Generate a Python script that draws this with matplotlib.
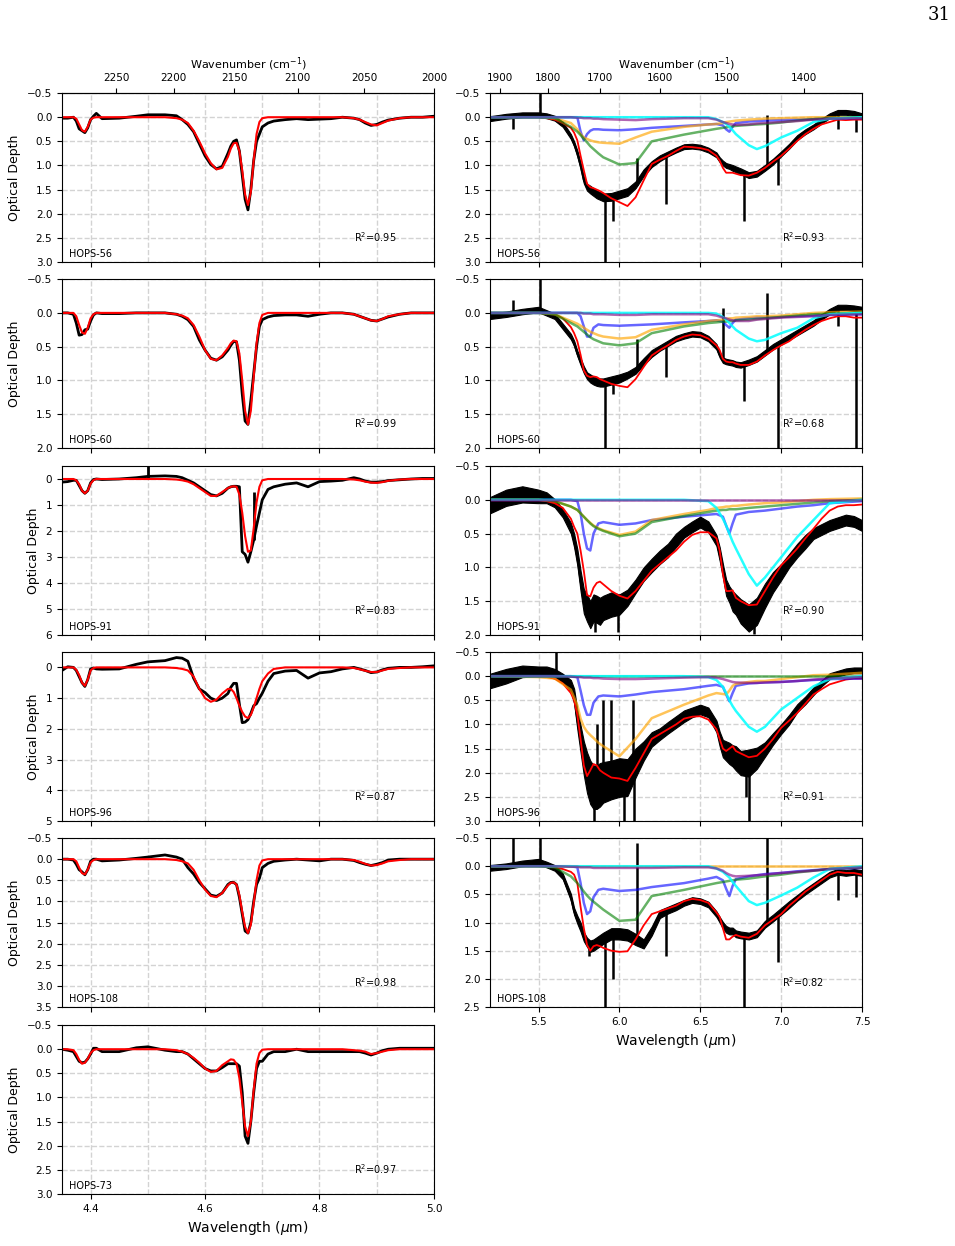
import numpy as np
import matplotlib
matplotlib.use('Agg')
import matplotlib.pyplot as plt
from matplotlib.ticker import MultipleLocator

# ---------------- data ----------------
# 4.35-5.0 micron window (CO / OCN- region)
wl_co = [4.35, 4.36, 4.37, 4.375, 4.38, 4.385, 4.39, 4.395, 4.40, 4.405,
         4.41, 4.42, 4.45, 4.48, 4.50, 4.53, 4.55, 4.56, 4.57, 4.58,
         4.59, 4.60, 4.61, 4.62, 4.63, 4.64, 4.645, 4.65, 4.655, 4.66,
         4.665, 4.67, 4.675, 4.68, 4.685, 4.69, 4.695, 4.70, 4.71, 4.72,
         4.74, 4.76, 4.78, 4.80, 4.82, 4.84, 4.86, 4.87, 4.88, 4.89,
         4.90, 4.91, 4.92, 4.94, 4.96, 4.98, 5.00]

obs56_co = [0.02, 0.02, 0.00, 0.08, 0.24, 0.28, 0.32, 0.22, 0.05, -0.02,
            -0.08, 0.03, 0.02, -0.02, -0.05, -0.05, -0.03, 0.05, 0.15, 0.30,
            0.55, 0.80, 0.98, 1.07, 1.02, 0.75, 0.60, 0.50, 0.47, 0.70,
            1.20, 1.70, 1.92, 1.50, 0.90, 0.50, 0.35, 0.20, 0.12, 0.08,
            0.05, 0.03, 0.05, 0.04, 0.03, 0.00, 0.02, 0.05, 0.12, 0.17,
            0.15, 0.10, 0.06, 0.02, 0.00, 0.00, -0.02]
mod56_co = [0, 0, 0, 0.03, 0.15, 0.27, 0.30, 0.20, 0.05, 0.01,
            0, 0, 0, 0, 0, 0, 0.02, 0.05, 0.12, 0.28,
            0.50, 0.75, 0.95, 1.08, 1.05, 0.82, 0.65, 0.54, 0.53, 0.70,
            1.10, 1.60, 1.82, 1.55, 0.90, 0.35, 0.10, 0.02, 0, 0,
            0, 0, 0, 0, 0, 0, 0.02, 0.05, 0.10, 0.15,
            0.17, 0.12, 0.07, 0.02, 0, 0, 0]

obs60_co = [0.00, 0.00, 0.02, 0.15, 0.33, 0.32, 0.25, 0.24, 0.12, 0.03,
            0.00, 0.01, 0.01, 0.00, 0.00, 0.00, 0.02, 0.05, 0.10, 0.20,
            0.40, 0.55, 0.67, 0.70, 0.65, 0.55, 0.48, 0.42, 0.43, 0.70,
            1.20, 1.60, 1.65, 1.30, 0.90, 0.50, 0.20, 0.10, 0.06, 0.04,
            0.03, 0.03, 0.05, 0.02, 0.00, 0.00, 0.02, 0.05, 0.08, 0.11,
            0.12, 0.09, 0.06, 0.02, 0.00, 0.00, 0.00]
mod60_co = [0, 0, 0, 0.05, 0.18, 0.29, 0.31, 0.22, 0.08, 0.02,
            0, 0, 0, 0, 0, 0, 0.02, 0.04, 0.08, 0.18,
            0.35, 0.55, 0.68, 0.70, 0.63, 0.52, 0.45, 0.41, 0.42, 0.60,
            1.00, 1.45, 1.65, 1.45, 0.95, 0.45, 0.15, 0.03, 0, 0,
            0, 0, 0, 0, 0, 0, 0.02, 0.05, 0.08, 0.11,
            0.12, 0.09, 0.05, 0.02, 0, 0, 0]

obs91_co = [0.12, 0.10, 0.05, 0.05, 0.25, 0.45, 0.55, 0.45, 0.15, 0.02,
            0.00, 0.02, 0.00, -0.05, -0.10, -0.12, -0.10, -0.05, 0.05, 0.15,
            0.30, 0.45, 0.60, 0.65, 0.55, 0.35, 0.30, 0.28, 0.28, 0.30,
            2.80, 2.90, 3.20, 2.80, 2.35, 1.80, 1.30, 0.80, 0.40, 0.30,
            0.20, 0.15, 0.30, 0.10, 0.08, 0.05, -0.05, 0.00, 0.08, 0.12,
            0.12, 0.10, 0.06, 0.03, 0.00, -0.02, -0.02]
mod91_co = [0, 0, 0, 0.05, 0.20, 0.45, 0.55, 0.45, 0.18, 0.04,
            0, 0, 0, 0, 0, 0, 0.02, 0.05, 0.10, 0.20,
            0.35, 0.50, 0.65, 0.65, 0.50, 0.35, 0.30, 0.28, 0.30, 0.60,
            1.30, 2.20, 2.80, 2.75, 1.90, 0.90, 0.30, 0.05, 0, 0,
            0, 0, 0, 0, 0, 0, 0.02, 0.05, 0.10, 0.14,
            0.15, 0.12, 0.07, 0.02, 0, 0, 0]

obs96_co = [0.10, -0.02, 0.00, 0.10, 0.30, 0.50, 0.62, 0.40, 0.05, 0.02,
            0.05, 0.06, 0.05, -0.10, -0.18, -0.22, -0.32, -0.30, -0.20, 0.35,
            0.70, 0.82, 1.00, 1.08, 1.00, 0.85, 0.65, 0.52, 0.52, 1.20,
            1.80, 1.78, 1.70, 1.50, 1.25, 1.18, 1.00, 0.84, 0.45, 0.20,
            0.12, 0.10, 0.35, 0.18, 0.14, 0.05, 0.00, 0.05, 0.10, 0.17,
            0.15, 0.08, 0.03, 0.00, 0.00, -0.02, -0.05]
mod96_co = [0, 0, 0, 0.08, 0.25, 0.50, 0.60, 0.40, 0.10, 0.02,
            0, 0, 0, 0, 0, 0, 0.02, 0.05, 0.10, 0.30,
            0.70, 1.00, 1.12, 1.05, 0.85, 0.70, 0.70, 0.80, 1.00, 1.25,
            1.45, 1.60, 1.65, 1.55, 1.30, 1.00, 0.70, 0.45, 0.20, 0.05,
            0, 0, 0, 0, 0, 0, 0.02, 0.06, 0.11, 0.15,
            0.15, 0.10, 0.05, 0.02, 0, 0, 0]

obs108_co = [0.00, 0.00, 0.02, 0.12, 0.25, 0.30, 0.37, 0.25, 0.05, 0.00,
             0.00, 0.04, 0.02, -0.02, -0.05, -0.10, -0.05, 0.00, 0.20, 0.35,
             0.55, 0.70, 0.85, 0.88, 0.80, 0.60, 0.55, 0.55, 0.60, 0.90,
             1.30, 1.70, 1.75, 1.50, 1.00, 0.60, 0.45, 0.20, 0.10, 0.05,
             0.02, 0.00, 0.02, 0.04, 0.00, 0.00, 0.03, 0.08, 0.12, 0.15,
             0.12, 0.08, 0.02, 0.00, 0.00, 0.00, 0.00]
mod108_co = [0, 0, 0, 0.05, 0.20, 0.33, 0.36, 0.25, 0.08, 0.02,
             0, 0, 0, 0, 0, 0, 0.02, 0.05, 0.10, 0.25,
             0.50, 0.72, 0.87, 0.90, 0.80, 0.62, 0.56, 0.55, 0.60, 0.85,
             1.25, 1.60, 1.75, 1.55, 1.05, 0.50, 0.15, 0.03, 0, 0,
             0, 0, 0, 0, 0, 0, 0.02, 0.06, 0.11, 0.15,
             0.14, 0.10, 0.05, 0.02, 0, 0, 0]

obs73_co = [0.00, 0.02, 0.05, 0.15, 0.25, 0.28, 0.27, 0.20, 0.10, -0.02,
            -0.02, 0.05, 0.05, -0.03, -0.05, 0.02, 0.05, 0.05, 0.10, 0.20,
            0.30, 0.40, 0.45, 0.45, 0.38, 0.30, 0.30, 0.30, 0.30, 0.35,
            0.90, 1.80, 1.95, 1.50, 0.90, 0.40, 0.25, 0.25, 0.10, 0.05,
            0.05, 0.00, 0.05, 0.05, 0.05, 0.05, 0.05, 0.05, 0.08, 0.12,
            0.08, 0.03, 0.00, -0.02, -0.02, -0.02, -0.02]
mod73_co = [0, 0, 0.02, 0.10, 0.22, 0.30, 0.28, 0.20, 0.08, 0.02,
            0, 0, 0, 0, 0, 0, 0.02, 0.05, 0.10, 0.18,
            0.28, 0.40, 0.47, 0.45, 0.33, 0.25, 0.21, 0.22, 0.30, 0.60,
            1.10, 1.60, 1.80, 1.50, 0.85, 0.30, 0.08, 0.01, 0, 0,
            0, 0, 0, 0, 0, 0, 0.02, 0.03, 0.05, 0.10,
            0.08, 0.05, 0.02, 0, 0, 0, 0]

# spikes (wavelength, start, end)
spikes91_co = [(4.501, 0.0, -0.5), (4.685, 2.35, 0.5)]

# 5.2-7.5 micron window
wl_ir = [5.20, 5.30, 5.40, 5.50, 5.55, 5.60, 5.65, 5.70, 5.72, 5.74,
         5.76, 5.78, 5.80, 5.82, 5.84, 5.86, 5.88, 5.90, 5.95, 6.00,
         6.05, 6.10, 6.15, 6.20, 6.25, 6.30, 6.35, 6.40, 6.45, 6.50,
         6.55, 6.60, 6.62, 6.64, 6.66, 6.68, 6.70, 6.72, 6.75, 6.80,
         6.85, 6.90, 6.95, 7.00, 7.05, 7.10, 7.15, 7.20, 7.25, 7.30,
         7.35, 7.40, 7.45, 7.50]

obs56_ir = [0.03, -0.02, -0.05, -0.05, -0.03, 0.02, 0.15, 0.40, 0.55, 0.75,
            1.00, 1.30, 1.45, 1.50, 1.55, 1.60, 1.63, 1.66, 1.65, 1.60,
            1.55, 1.40, 1.15, 0.97, 0.85, 0.76, 0.68, 0.61, 0.60, 0.62,
            0.68, 0.78, 0.88, 0.95, 1.00, 1.02, 1.05, 1.08, 1.12, 1.20,
            1.17, 1.05, 0.92, 0.76, 0.60, 0.42, 0.30, 0.20, 0.08, -0.03,
            -0.10, -0.10, -0.08, -0.03]
noise56_ir = [0.05, 0.05, 0.05, 0.05, 0.05, 0.05, 0.05, 0.05, 0.05, 0.06,
              0.06, 0.07, 0.07, 0.08, 0.08, 0.08, 0.08, 0.08, 0.08, 0.08,
              0.08, 0.07, 0.07, 0.06, 0.06, 0.05, 0.05, 0.05, 0.05, 0.05,
              0.05, 0.05, 0.05, 0.05, 0.05, 0.05, 0.06, 0.06, 0.06, 0.06,
              0.06, 0.06, 0.06, 0.05, 0.05, 0.05, 0.05, 0.05, 0.05, 0.05,
              0.05, 0.05, 0.05, 0.05]
mod56_ir = [0.0, 0.0, 0.0, 0.0, 0.02, 0.05, 0.12, 0.22, 0.32, 0.48,
            0.80, 1.10, 1.38, 1.45, 1.47, 1.50, 1.53, 1.57, 1.68, 1.76,
            1.84, 1.66, 1.31, 0.97, 0.88, 0.80, 0.70, 0.61, 0.62, 0.64,
            0.68, 0.80, 0.90, 1.05, 1.15, 1.15, 1.15, 1.17, 1.20, 1.21,
            1.15, 1.05, 0.92, 0.80, 0.65, 0.49, 0.35, 0.24, 0.15, 0.10,
            0.05, 0.06, 0.05, 0.05]
spikes56_ir = [(5.34, 0.0, 0.25), (5.51, 0.0, -0.5), (5.91, 1.66, 3.0), (5.96, 1.65, 2.15),
               (6.11, 1.4, 0.85), (6.29, 0.8, 1.8), (6.77, 1.15, 2.15), (6.91, 1.0, -0.05),
               (6.98, 0.8, 1.4), (7.35, -0.1, 0.25), (7.46, -0.08, 0.3)]

obs60_ir = [0.05, 0.02, -0.02, -0.05, 0.00, 0.05, 0.20, 0.35, 0.45, 0.60,
            0.72, 0.84, 0.93, 0.97, 1.00, 1.02, 1.03, 1.03, 1.00, 0.97,
            0.92, 0.85, 0.72, 0.60, 0.52, 0.45, 0.38, 0.34, 0.31, 0.32,
            0.38, 0.50, 0.62, 0.70, 0.72, 0.73, 0.74, 0.76, 0.77, 0.73,
            0.68, 0.59, 0.50, 0.43, 0.36, 0.29, 0.22, 0.15, 0.06, -0.02,
            -0.08, -0.08, -0.07, -0.05]
noise60_ir = [0.04, 0.04, 0.04, 0.04, 0.04, 0.04, 0.04, 0.04, 0.04, 0.04,
              0.05, 0.05, 0.05, 0.06, 0.06, 0.06, 0.06, 0.06, 0.06, 0.06,
              0.05, 0.05, 0.05, 0.05, 0.04, 0.04, 0.04, 0.04, 0.04, 0.04,
              0.04, 0.04, 0.04, 0.04, 0.04, 0.04, 0.04, 0.04, 0.04, 0.04,
              0.04, 0.04, 0.04, 0.04, 0.04, 0.04, 0.04, 0.04, 0.04, 0.04,
              0.04, 0.04, 0.04, 0.04]
mod60_ir = [0.0, 0.0, 0.0, 0.0, 0.01, 0.02, 0.08, 0.21, 0.30, 0.42,
            0.62, 0.85, 0.93, 0.95, 0.94, 0.95, 0.98, 1.00, 1.05, 1.08,
            1.10, 0.98, 0.80, 0.63, 0.55, 0.48, 0.40, 0.35, 0.32, 0.33,
            0.38, 0.48, 0.55, 0.68, 0.72, 0.73, 0.73, 0.75, 0.77, 0.77,
            0.72, 0.63, 0.55, 0.48, 0.42, 0.33, 0.25, 0.18, 0.12, 0.08,
            0.05, 0.05, 0.07, 0.07]
spikes60_ir = [(5.34, 0.0, -0.19), (5.51, 0.0, -0.5), (5.91, 1.03, 2.0), (5.96, 1.0, 1.2),
               (6.11, 0.85, 0.38), (6.29, 0.45, 0.95), (6.64, 0.7, -0.07), (6.77, 0.75, 1.3),
               (6.91, 0.6, -0.3), (6.98, 0.45, 2.0), (7.35, -0.08, 0.2), (7.42, -0.08, -0.12),
               (7.46, -0.07, 2.0)]

obs91_ir = [0.08, -0.03, -0.08, -0.05, -0.03, 0.05, 0.20, 0.42, 0.60, 0.85,
            1.20, 1.50, 1.60, 1.70, 1.60, 1.62, 1.65, 1.60, 1.55, 1.55,
            1.45, 1.28, 1.10, 0.97, 0.85, 0.75, 0.60, 0.48, 0.40, 0.33,
            0.40, 0.60, 0.80, 1.05, 1.30, 1.40, 1.50, 1.55, 1.65, 1.75,
            1.65, 1.42, 1.22, 1.07, 0.90, 0.75, 0.62, 0.50, 0.44, 0.38,
            0.34, 0.30, 0.32, 0.38]
noise91_ir = [0.12, 0.12, 0.12, 0.10, 0.08, 0.06, 0.06, 0.08, 0.10, 0.12,
              0.15, 0.18, 0.20, 0.20, 0.20, 0.20, 0.20, 0.18, 0.18, 0.15,
              0.12, 0.10, 0.10, 0.10, 0.10, 0.10, 0.10, 0.08, 0.08, 0.08,
              0.08, 0.08, 0.10, 0.10, 0.12, 0.12, 0.15, 0.15, 0.18, 0.20,
              0.20, 0.18, 0.15, 0.12, 0.10, 0.10, 0.10, 0.08, 0.08, 0.08,
              0.08, 0.08, 0.08, 0.08]
mod91_ir = [0.0, 0.0, 0.0, 0.0, 0.02, 0.05, 0.12, 0.28, 0.40, 0.50,
            0.75, 1.05, 1.41, 1.43, 1.30, 1.23, 1.21, 1.25, 1.35, 1.42,
            1.46, 1.35, 1.20, 1.05, 0.95, 0.85, 0.75, 0.62, 0.52, 0.48,
            0.48, 0.57, 0.75, 1.10, 1.35, 1.35, 1.34, 1.45, 1.50, 1.56,
            1.55, 1.35, 1.15, 0.97, 0.85, 0.72, 0.57, 0.43, 0.28, 0.16,
            0.10, 0.08, 0.08, 0.07]
spikes91_ir = [(5.85, 1.6, 1.95), (5.99, 1.55, 1.95), (6.83, 1.7, 1.98)]

obs96_ir = [0.10, 0.00, -0.10, -0.10, -0.10, -0.05, 0.05, 0.20, 0.41, 0.90,
            1.30, 1.70, 2.00, 2.20, 2.30, 2.30, 2.25, 2.20, 2.15, 2.10,
            2.10, 1.80, 1.55, 1.31, 1.20, 1.07, 0.95, 0.83, 0.75, 0.69,
            0.75, 1.04, 1.30, 1.50, 1.55, 1.60, 1.65, 1.70, 1.80, 1.80,
            1.70, 1.52, 1.30, 1.10, 0.90, 0.66, 0.50, 0.31, 0.15, 0.00,
            -0.05, -0.10, -0.12, -0.12]
noise96_ir = [0.15, 0.15, 0.12, 0.10, 0.10, 0.10, 0.10, 0.12, 0.15, 0.20,
              0.28, 0.35, 0.42, 0.45, 0.45, 0.45, 0.45, 0.42, 0.40, 0.40,
              0.38, 0.30, 0.20, 0.15, 0.12, 0.12, 0.12, 0.12, 0.10, 0.10,
              0.10, 0.12, 0.15, 0.18, 0.20, 0.22, 0.22, 0.25, 0.25, 0.28,
              0.22, 0.15, 0.12, 0.10, 0.10, 0.08, 0.08, 0.08, 0.06, 0.06,
              0.06, 0.06, 0.06, 0.06]
mod96_ir = [0.0, 0.0, 0.0, 0.02, 0.02, 0.05, 0.15, 0.35, 0.50, 0.80,
            1.30, 1.85, 2.07, 1.95, 1.82, 1.85, 1.95, 2.00, 2.10, 2.12,
            2.17, 1.90, 1.60, 1.30, 1.20, 1.10, 1.00, 0.88, 0.84, 0.83,
            0.90, 1.10, 1.30, 1.50, 1.55, 1.50, 1.45, 1.55, 1.60, 1.68,
            1.65, 1.50, 1.30, 1.07, 0.92, 0.76, 0.57, 0.38, 0.27, 0.17,
            0.12, 0.07, 0.05, 0.05]
spikes96_ir = [(5.61, -0.05, -0.5), (5.84, 2.3, 3.0), (5.86, 2.3, 1.0), (5.90, 2.2, 0.5),
               (5.95, 2.15, 0.5), (6.03, 2.1, 3.0), (6.085, 1.9, 0.5), (6.09, 1.9, 3.0),
               (6.78, 1.8, 2.5), (6.80, 1.8, 3.0)]

obs108_ir = [0.03, 0.00, -0.05, -0.08, -0.03, 0.03, 0.18, 0.55, 0.80, 0.95,
             1.08, 1.25, 1.35, 1.42, 1.40, 1.36, 1.32, 1.28, 1.20, 1.20,
             1.22, 1.30, 1.38, 1.15, 0.85, 0.78, 0.72, 0.65, 0.60, 0.62,
             0.68, 0.85, 0.95, 1.05, 1.12, 1.15, 1.15, 1.20, 1.22, 1.24,
             1.20, 1.03, 0.92, 0.80, 0.68, 0.56, 0.45, 0.35, 0.25, 0.15,
             0.10, 0.12, 0.10, 0.12]
noise108_ir = [0.05, 0.05, 0.05, 0.05, 0.05, 0.05, 0.05, 0.06, 0.06, 0.07,
               0.08, 0.08, 0.08, 0.10, 0.10, 0.10, 0.10, 0.10, 0.10, 0.10,
               0.10, 0.10, 0.08, 0.08, 0.07, 0.06, 0.06, 0.05, 0.05, 0.05,
               0.05, 0.05, 0.05, 0.06, 0.06, 0.06, 0.06, 0.06, 0.06, 0.06,
               0.06, 0.06, 0.06, 0.06, 0.06, 0.05, 0.05, 0.05, 0.05, 0.05,
               0.05, 0.05, 0.05, 0.05]
mod108_ir = [0.0, 0.0, 0.0, 0.0, 0.01, 0.02, 0.05, 0.10, 0.15, 0.30,
             0.72, 1.10, 1.40, 1.50, 1.42, 1.40, 1.42, 1.45, 1.50, 1.52,
             1.51, 1.30, 1.05, 0.85, 0.80, 0.75, 0.70, 0.62, 0.58, 0.60,
             0.65, 0.82, 0.90, 1.10, 1.30, 1.30, 1.25, 1.22, 1.25, 1.27,
             1.20, 1.05, 0.95, 0.85, 0.70, 0.58, 0.45, 0.35, 0.25, 0.15,
             0.10, 0.12, 0.12, 0.15]
spikes108_ir = [(5.34, 0.0, -0.5), (5.51, -0.05, -0.5), (5.81, 1.35, 1.6), (5.91, 1.28, 2.5),
                (5.96, 1.2, 2.0), (6.11, 1.3, -0.42), (6.29, 0.78, 1.6), (6.77, 1.22, 2.5),
                (6.91, 1.05, -0.5), (6.98, 0.85, 1.7), (7.35, 0.1, 0.6), (7.46, 0.1, 0.55)]

# fit components, coarser grid
wl_comp = [5.20, 5.50, 5.60, 5.70, 5.74, 5.76, 5.78, 5.80, 5.82, 5.84,
           5.87, 5.90, 6.00, 6.10, 6.20, 6.40, 6.55, 6.60, 6.64, 6.66,
           6.68, 6.70, 6.72, 6.80, 6.85, 6.90, 7.00, 7.10, 7.20, 7.30, 7.50]

blue56 = [0, 0, 0, 0, 0.0, 0.30, 0.48, 0.35, 0.28, 0.25, 0.25, 0.26, 0.27, 0.25, 0.22, 0.18,
          0.15, 0.14, 0.17, 0.25, 0.30, 0.20, 0.12, 0.09, 0.08, 0.07, 0.06, 0.05, 0.04, 0.03, 0.02]
orange56 = [0, 0, 0.02, 0.12, 0.25, 0.35, 0.42, 0.45, 0.48, 0.50, 0.52, 0.53, 0.55, 0.42, 0.30, 0.20,
            0.15, 0.14, 0.12, 0.10, 0.09, 0.08, 0.07, 0.05, 0.04, 0.03, 0.02, 0.01, 0.0, 0.0, 0.0]
green56 = [0, 0, 0.02, 0.20, 0.30, 0.37, 0.45, 0.52, 0.60, 0.66, 0.75, 0.83, 0.98, 0.95, 0.50, 0.36,
           0.27, 0.24, 0.22, 0.21, 0.20, 0.19, 0.18, 0.16, 0.15, 0.14, 0.11, 0.07, 0.04, 0.02, 0.0]
cyan56 = [0, 0, 0, 0, 0, 0, 0, 0, 0, 0, 0, 0, 0, 0, 0, 0,
          0.0, 0.04, 0.10, 0.14, 0.20, 0.27, 0.35, 0.58, 0.66, 0.60, 0.42, 0.28, 0.10, 0.03, 0.0]
purple56 = [0, 0, 0, 0, 0.01, 0.01, 0.02, 0.02, 0.02, 0.03, 0.03, 0.04, 0.05, 0.06, 0.04, 0.02,
            0.02, 0.05, 0.10, 0.12, 0.14, 0.15, 0.16, 0.15, 0.13, 0.12, 0.10, 0.08, 0.05, 0.03, 0.02]

blue60 = [0, 0, 0, 0, 0.0, 0.05, 0.20, 0.35, 0.35, 0.22, 0.17, 0.18, 0.19, 0.18, 0.17, 0.14,
          0.12, 0.11, 0.13, 0.18, 0.22, 0.15, 0.10, 0.08, 0.07, 0.07, 0.06, 0.05, 0.04, 0.03, 0.02]
orange60 = [0, 0, 0.02, 0.12, 0.16, 0.19, 0.22, 0.25, 0.28, 0.30, 0.33, 0.35, 0.38, 0.36, 0.25, 0.17,
            0.12, 0.11, 0.10, 0.09, 0.08, 0.08, 0.07, 0.06, 0.05, 0.05, 0.04, 0.02, 0.0, -0.01, -0.02]
green60 = [0, 0, 0.02, 0.15, 0.20, 0.24, 0.28, 0.32, 0.36, 0.39, 0.42, 0.45, 0.48, 0.45, 0.30, 0.20,
           0.15, 0.14, 0.13, 0.13, 0.12, 0.12, 0.11, 0.10, 0.09, 0.08, 0.06, 0.04, 0.02, 0.01, 0.0]
cyan60 = [0, 0, 0, 0, 0, 0, 0, 0, 0, 0, 0, 0, 0, 0, 0, 0,
          0.0, 0.01, 0.06, 0.10, 0.15, 0.20, 0.25, 0.38, 0.42, 0.40, 0.30, 0.22, 0.08, 0.02, 0.0]
purple60 = [0, 0, 0, 0, 0.0, 0.0, 0.01, 0.01, 0.01, 0.02, 0.02, 0.02, 0.03, 0.03, 0.02, 0.02,
            0.02, 0.04, 0.07, 0.08, 0.10, 0.11, 0.12, 0.12, 0.10, 0.09, 0.07, 0.06, 0.05, 0.03, 0.02]

blue91 = [0, 0, 0, 0, 0.02, 0.20, 0.50, 0.72, 0.75, 0.50, 0.35, 0.33, 0.37, 0.35, 0.30, 0.25,
          0.22, 0.21, 0.25, 0.38, 0.50, 0.35, 0.22, 0.18, 0.17, 0.16, 0.13, 0.10, 0.08, 0.05, 0.02]
orange91 = [0, 0, 0.02, 0.10, 0.15, 0.20, 0.25, 0.30, 0.34, 0.38, 0.42, 0.45, 0.52, 0.47, 0.30, 0.21,
            0.15, 0.12, 0.11, 0.10, 0.10, 0.09, 0.09, 0.07, 0.06, 0.05, 0.04, 0.02, 0.0, -0.01, -0.02]
green91 = [0, 0, 0.02, 0.10, 0.15, 0.20, 0.25, 0.30, 0.35, 0.39, 0.43, 0.46, 0.54, 0.50, 0.33, 0.24,
           0.18, 0.16, 0.15, 0.15, 0.14, 0.14, 0.14, 0.12, 0.11, 0.10, 0.08, 0.06, 0.04, 0.02, 0.0]
cyan91 = [0, 0, 0, 0, 0, 0, 0, 0, 0, 0, 0, 0, 0, 0, 0, 0,
          0.02, 0.12, 0.28, 0.38, 0.50, 0.62, 0.72, 1.10, 1.27, 1.15, 0.85, 0.55, 0.30, 0.05, 0.0]
purple91 = [0, 0, 0, 0, 0, 0, 0, 0, 0, 0, 0, 0, 0, 0, 0, 0,
            0, 0, 0, 0, 0, 0, 0, 0, 0, 0, 0, 0, 0, 0, 0]

blue96 = [0, 0, 0, 0, 0.02, 0.30, 0.60, 0.80, 0.80, 0.55, 0.42, 0.40, 0.42, 0.38, 0.33, 0.27,
          0.20, 0.18, 0.22, 0.38, 0.52, 0.35, 0.20, 0.15, 0.14, 0.13, 0.12, 0.10, 0.08, 0.06, 0.05]
orange96 = [0, 0.02, 0.05, 0.28, 0.60, 0.88, 1.05, 1.15, 1.22, 1.28, 1.38, 1.45, 1.66, 1.30, 0.87, 0.59,
            0.40, 0.35, 0.37, 0.38, 0.30, 0.20, 0.16, 0.12, 0.10, 0.10, 0.06, 0.02, -0.02, -0.03, -0.07]
green96 = [0, 0, 0, 0, 0, 0, 0, 0, 0, 0, 0, 0, 0, 0, 0, 0,
           0, 0, 0, 0, 0, 0, 0, 0, 0, 0, 0, 0, 0, 0, 0]
cyan96 = [0, 0, 0, 0, 0, 0, 0, 0, 0, 0, 0, 0, 0, 0, 0, 0,
          0.02, 0.08, 0.22, 0.35, 0.50, 0.62, 0.72, 1.05, 1.15, 1.05, 0.69, 0.45, 0.21, 0.06, 0.0]
purple96 = [0, 0, 0, 0.01, 0.02, 0.02, 0.03, 0.03, 0.03, 0.04, 0.04, 0.05, 0.06, 0.06, 0.05, 0.03,
            0.02, 0.03, 0.06, 0.08, 0.10, 0.12, 0.13, 0.14, 0.14, 0.13, 0.12, 0.10, 0.07, 0.05, 0.02]

blue108 = [0, 0, 0, 0, 0.02, 0.30, 0.65, 0.85, 0.80, 0.55, 0.42, 0.40, 0.44, 0.42, 0.37, 0.30,
           0.22, 0.19, 0.25, 0.40, 0.53, 0.35, 0.23, 0.18, 0.16, 0.14, 0.12, 0.09, 0.07, 0.05, 0.03]
orange108 = [0, 0, 0, 0, 0, 0, 0, 0, 0, 0, 0, 0, 0, 0, 0, 0,
             0, 0, 0, 0, 0, 0, 0, 0, 0, 0, 0, 0, 0, 0, 0]
green108 = [0, 0, 0.02, 0.18, 0.30, 0.37, 0.45, 0.52, 0.58, 0.63, 0.70, 0.77, 0.97, 0.95, 0.53, 0.42,
            0.33, 0.30, 0.28, 0.27, 0.26, 0.25, 0.24, 0.22, 0.20, 0.18, 0.15, 0.11, 0.08, 0.05, 0.02]
cyan108 = [0, 0, 0, 0, 0, 0, 0, 0, 0, 0, 0, 0, 0, 0, 0, 0,
           0.0, 0.04, 0.10, 0.15, 0.20, 0.28, 0.35, 0.62, 0.69, 0.65, 0.52, 0.38, 0.20, 0.05, 0.0]
purple108 = [0, 0, 0, 0.01, 0.01, 0.02, 0.02, 0.02, 0.02, 0.03, 0.03, 0.03, 0.03, 0.03, 0.03, 0.02,
             0.02, 0.04, 0.08, 0.12, 0.15, 0.17, 0.18, 0.17, 0.16, 0.15, 0.12, 0.10, 0.08, 0.05, 0.02]

# ---------------- panels ----------------
left_panels = [
    ('HOPS-56', obs56_co, mod56_co, 3.0, 0.5, '0.95', []),
    ('HOPS-60', obs60_co, mod60_co, 2.0, 0.5, '0.99', []),
    ('HOPS-91', obs91_co, mod91_co, 6.0, 1.0, '0.83', spikes91_co),
    ('HOPS-96', obs96_co, mod96_co, 5.0, 1.0, '0.87', []),
    ('HOPS-108', obs108_co, mod108_co, 3.5, 0.5, '0.98', []),
    ('HOPS-73', obs73_co, mod73_co, 3.0, 0.5, '0.97', []),
]
right_panels = [
    ('HOPS-56', obs56_ir, noise56_ir, mod56_ir, spikes56_ir,
     (blue56, orange56, green56, cyan56, purple56), 3.0, '0.93'),
    ('HOPS-60', obs60_ir, noise60_ir, mod60_ir, spikes60_ir,
     (blue60, orange60, green60, cyan60, purple60), 2.0, '0.68'),
    ('HOPS-91', obs91_ir, noise91_ir, mod91_ir, spikes91_ir,
     (blue91, orange91, green91, cyan91, purple91), 2.0, '0.90'),
    ('HOPS-96', obs96_ir, noise96_ir, mod96_ir, spikes96_ir,
     (blue96, orange96, green96, cyan96, purple96), 3.0, '0.91'),
    ('HOPS-108', obs108_ir, noise108_ir, mod108_ir, spikes108_ir,
     (blue108, orange108, green108, cyan108, purple108), 2.5, '0.82'),
]
comp_colors = ['blue', 'orange', 'green', 'cyan', 'purple']
comp_alpha = [0.6, 0.65, 0.6, 0.85, 0.6]

row_bottom = [0.7897, 0.6404, 0.4904, 0.3411, 0.1918, 0.0417]
ax_h = 0.1356
left_x0, right_x0, ax_w = 0.0649, 0.5131, 0.3895

fig = plt.figure(figsize=(9.55, 12.46), dpi=100)


def inv(x):
    x = np.asarray(x, dtype=float)
    with np.errstate(divide='ignore', invalid='ignore'):
        return 1e4 / x


def style(ax, ymax, ystep):
    ax.set_ylim(ymax, -0.5)
    ax.yaxis.set_major_locator(MultipleLocator(ystep))
    ax.grid(True, which='both', ls='--', color='#d3d3d3', lw=1.0)
    ax.set_axisbelow(True)
    ax.tick_params(labelsize=7.5, length=3.5)
    ax.tick_params(which='minor', length=0)


for i, (name, obs, mod, ymax, ystep, r2, spikes) in enumerate(left_panels):
    ax = fig.add_axes([left_x0, row_bottom[i], ax_w, ax_h])
    ax.plot(wl_co, obs, color='black', lw=2.0)
    for (x, y0, y1) in spikes:
        ax.vlines(x, y0, y1, color='black', lw=2.0)
    ax.plot(wl_co, mod, color='red', lw=1.5)
    ax.set_xlim(4.35, 5.0)
    ax.xaxis.set_major_locator(MultipleLocator(0.2))
    ax.xaxis.set_minor_locator(MultipleLocator(0.1))
    style(ax, ymax, ystep)
    ax.set_ylabel('Optical Depth', fontsize=9)
    ax.text(0.02, 0.03, name, transform=ax.transAxes, fontsize=7)
    ax.text(0.785, 0.12, 'R$^2$=' + r2, transform=ax.transAxes, fontsize=7)
    if i == len(left_panels) - 1:
        ax.set_xlabel(r'Wavelength ($\mu$m)', fontsize=10)
    else:
        ax.tick_params(labelbottom=False)
    if i == 0:
        sec = ax.secondary_xaxis('top', functions=(inv, inv))
        sec.set_xticks([2000, 2050, 2100, 2150, 2200, 2250])
        sec.tick_params(labelsize=7.5, length=3.5)
        sec.set_xlabel('Wavenumber (cm$^{-1}$)', fontsize=8)

for i, (name, obs, noise, mod, spikes, comps, ymax, r2) in enumerate(right_panels):
    ax = fig.add_axes([right_x0, row_bottom[i], ax_w, ax_h])
    lo = np.array(obs) - np.array(noise)
    hi = np.array(obs) + np.array(noise)
    ax.fill_between(wl_ir, lo, hi, color='black', lw=0.8)
    ax.plot(wl_ir, obs, color='black', lw=1.5)
    for (x, y0, y1) in spikes:
        ax.vlines(x, y0, y1, color='black', lw=1.8)
    ax.plot(wl_ir, mod, color='red', lw=1.3)
    for vals, c, a in zip(comps, comp_colors, comp_alpha):
        ax.plot(wl_comp, vals, color=c, alpha=a, lw=1.8)
    ax.set_xlim(5.2, 7.5)
    ax.xaxis.set_major_locator(MultipleLocator(0.5))
    style(ax, ymax, 0.5)
    ax.text(0.02, 0.03, name, transform=ax.transAxes, fontsize=7)
    ax.text(0.785, 0.12, 'R$^2$=' + r2, transform=ax.transAxes, fontsize=7)
    if i == len(right_panels) - 1:
        ax.set_xlabel(r'Wavelength ($\mu$m)', fontsize=10)
    else:
        ax.tick_params(labelbottom=False)
    if i == 0:
        sec = ax.secondary_xaxis('top', functions=(inv, inv))
        sec.set_xticks([1400, 1500, 1600, 1700, 1800, 1900])
        sec.tick_params(labelsize=7.5, length=3.5)
        sec.set_xlabel('Wavenumber (cm$^{-1}$)', fontsize=8)

fig.text(0.995, 0.995, '31', ha='right', va='top', fontsize=13, family='DejaVu Serif')

plt.savefig('out.png', dpi=100)
